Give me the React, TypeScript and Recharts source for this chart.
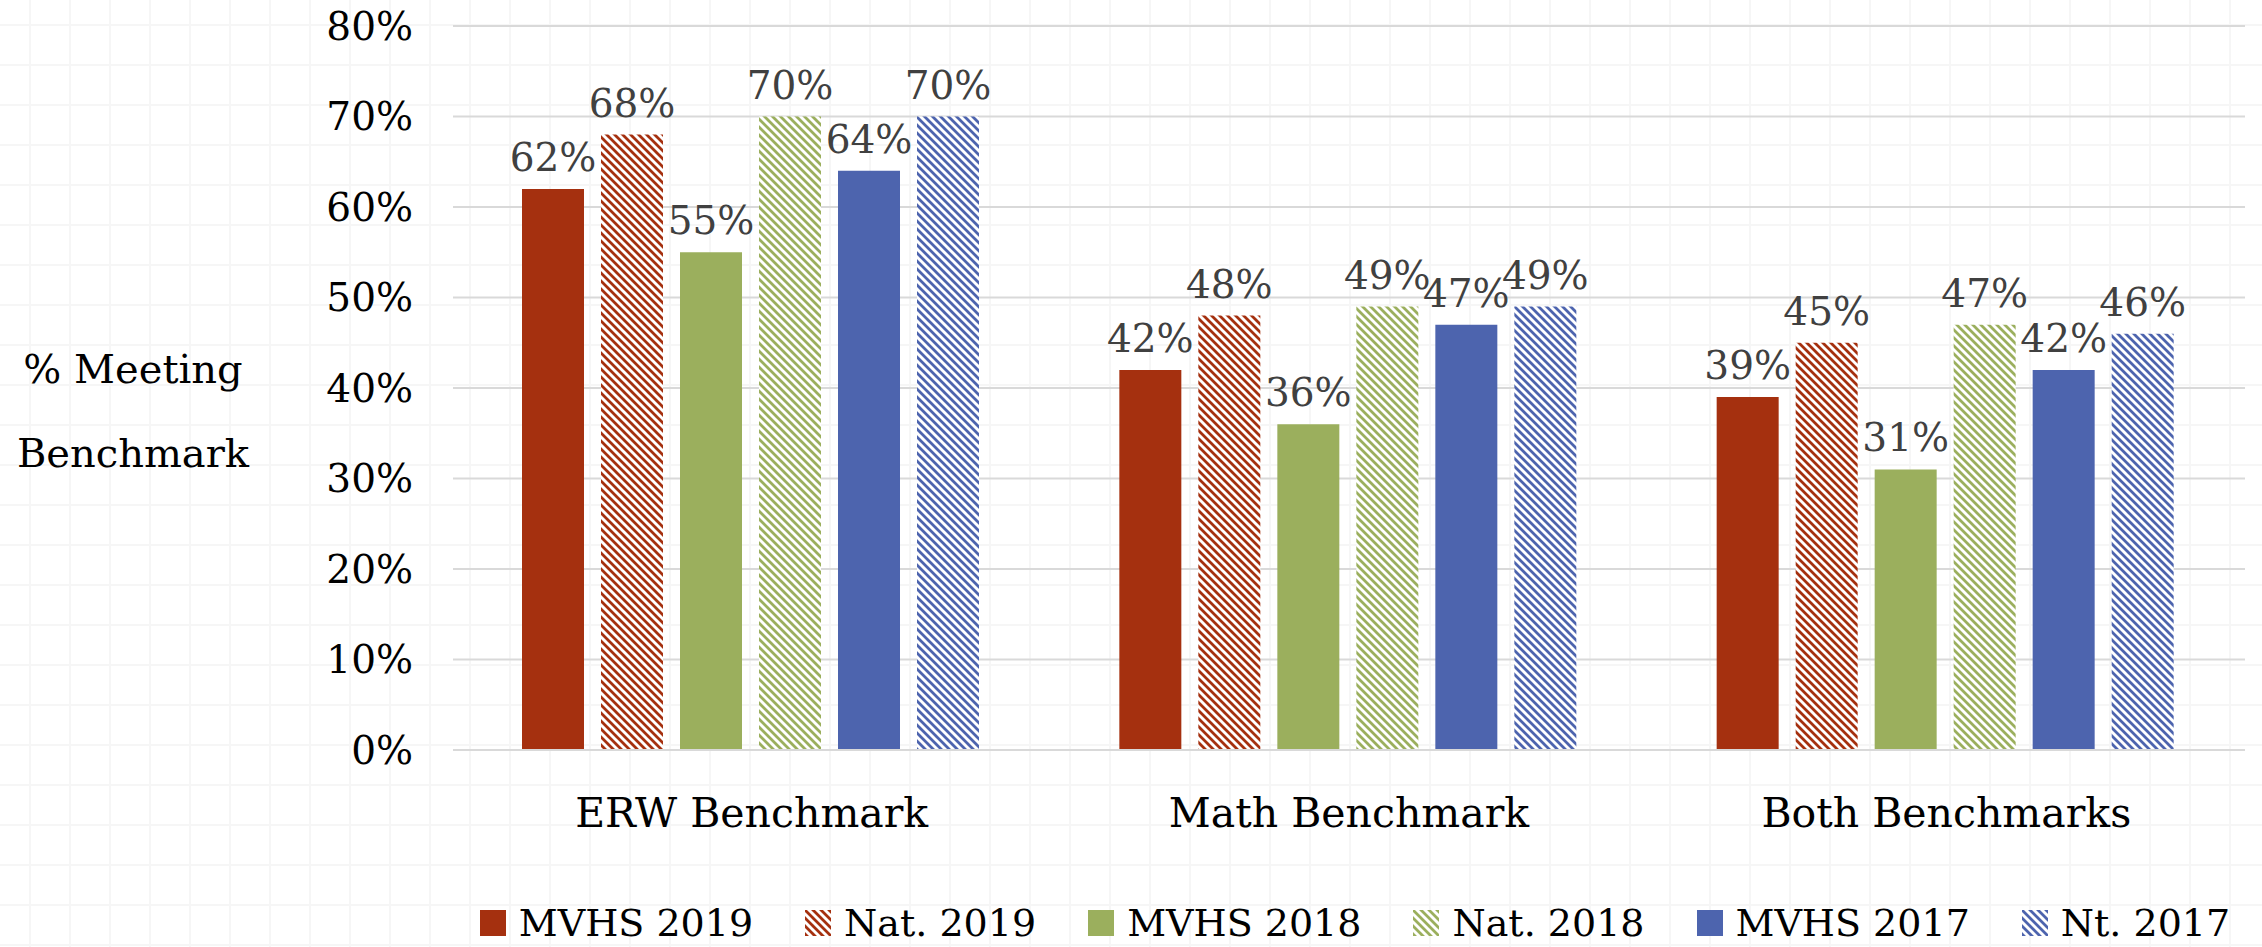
import React from 'react';
import { BarChart, Bar, XAxis, YAxis, CartesianGrid, Legend, LabelList, Label } from 'recharts';

const categories = ['ERW Benchmark', 'Math Benchmark', 'Both Benchmarks'];
const mvhs2019 = [62, 42, 39];
const nat2019 = [68, 48, 45];
const mvhs2018 = [55, 36, 31];
const nat2018 = [70, 49, 47];
const mvhs2017 = [64, 47, 42];
const nt2017 = [70, 49, 46];
const yTicks = [0, 10, 20, 30, 40, 50, 60, 70, 80];
const seriesNames = ['MVHS 2019', 'Nat. 2019', 'MVHS 2018', 'Nat. 2018', 'MVHS 2017', 'Nt. 2017'];
const yTitleLines = ['% Meeting', 'Benchmark'];

const data = categories.map((c, i) => ({
  category: c,
  mvhs2019: mvhs2019[i],
  nat2019: nat2019[i],
  mvhs2018: mvhs2018[i],
  nat2018: nat2018[i],
  mvhs2017: mvhs2017[i],
  nt2017: nt2017[i],
}));

const FONT = '"DejaVu Serif", serif';
const RED = '#A5300F';
const GREEN = '#9BAF5D';
const BLUE = '#4D64AE';

const series = [
  { key: 'mvhs2019', name: seriesNames[0], fill: RED },
  { key: 'nat2019', name: seriesNames[1], fill: 'url(#hatchRed)' },
  { key: 'mvhs2018', name: seriesNames[2], fill: GREEN },
  { key: 'nat2018', name: seriesNames[3], fill: 'url(#hatchGreen)' },
  { key: 'mvhs2017', name: seriesNames[4], fill: BLUE },
  { key: 'nt2017', name: seriesNames[5], fill: 'url(#hatchBlue)' },
];

function hatch(id: string, color: string) {
  return (
    <pattern id={id} patternUnits="userSpaceOnUse" width={8} height={8}>
      <rect width={8} height={8} fill="#ffffff" />
      <path d="M-2,-2 L10,10 M-2,6 L2,10 M6,-2 L10,2" stroke={color} strokeWidth={2.8} />
    </pattern>
  );
}

const LegendContent = () => {
  return (
    <div
      style={{
        display: 'flex',
        justifyContent: 'center',
        alignItems: 'center',
        height: 40,
        paddingLeft: 448,
        boxSizing: 'border-box',
        width: 2262,
      }}
    >
      {series.map((s, i) => (
        <div
          key={s.key}
          style={{ display: 'flex', alignItems: 'center', marginLeft: i === 0 ? 0 : 52 }}
        >
          <svg width={26} height={26} style={{ display: 'block' }}>
            <rect x={0} y={0} width={26} height={26} fill={s.fill} />
          </svg>
          <span
            style={{
              marginLeft: 13,
              fontFamily: FONT,
              fontSize: 38,
              lineHeight: '40px',
              color: '#000',
              whiteSpace: 'nowrap',
            }}
          >
            {s.name}
          </span>
        </div>
      ))}
    </div>
  );
};

const YTitle = (props: any) => {
  const vb = props.viewBox || { x: 0, y: 0, width: 0, height: 0 };
  const cx = vb.x + 133;
  const cy = vb.y + vb.height / 2;
  return (
    <text fontFamily={FONT} fontSize={40} fill="#000" textAnchor="middle">
      <tspan x={cx} y={cy - 5}>{yTitleLines[0]}</tspan>
      <tspan x={cx} y={cy + 79}>{yTitleLines[1]}</tspan>
    </text>
  );
};

export default function App() {
  const bgLine = '#f6f6f6';
  return (
    <div
      style={{
        position: 'absolute',
        left: 0,
        top: 0,
        width: 2262,
        height: 947,
        background: '#ffffff',
        backgroundImage: `linear-gradient(to right, ${bgLine} 2px, transparent 2px), linear-gradient(to bottom, ${bgLine} 2px, transparent 2px)`,
        backgroundSize: '40px 40px, 40px 40px',
        backgroundPosition: '29px 0px, 0px 24px',
      }}
    >
      <BarChart
        width={2262}
        height={947}
        data={data}
        margin={{ top: 26, right: 17, left: 0, bottom: 4 }}
        barCategoryGap={69}
        barGap={17}
      >
        <defs>
          {hatch('hatchRed', RED)}
          {hatch('hatchGreen', GREEN)}
          {hatch('hatchBlue', BLUE)}
        </defs>
        <CartesianGrid vertical={false} stroke="#d9d9d9" strokeWidth={2} />
        <XAxis
          dataKey="category"
          height={153}
          tickSize={0}
          tickMargin={48}
          axisLine={{ stroke: '#d9d9d9', strokeWidth: 2 }}
          tick={{ fill: '#000', fontSize: 41, fontFamily: FONT }}
        />
        <YAxis
          width={453}
          domain={[0, 80]}
          ticks={yTicks}
          tickFormatter={(v: number) => `${v}%`}
          tickSize={0}
          tickMargin={40}
          axisLine={false}
          tick={{ fill: '#000', fontSize: 39, fontFamily: FONT }}
        >
          <Label content={<YTitle />} />
        </YAxis>
        <Legend verticalAlign="bottom" height={40} content={<LegendContent />} wrapperStyle={{ left: 0, width: 2262 }} />
        {series.map((s) => (
          <Bar key={s.key} dataKey={s.key} name={s.name} fill={s.fill} isAnimationActive={false}>
            <LabelList
              dataKey={s.key}
              position="top"
              offset={18}
              formatter={(v: any) => `${v}%`}
              fill="#404040"
              fontSize={39}
              fontFamily={FONT}
            />
          </Bar>
        ))}
      </BarChart>
    </div>
  );
}
